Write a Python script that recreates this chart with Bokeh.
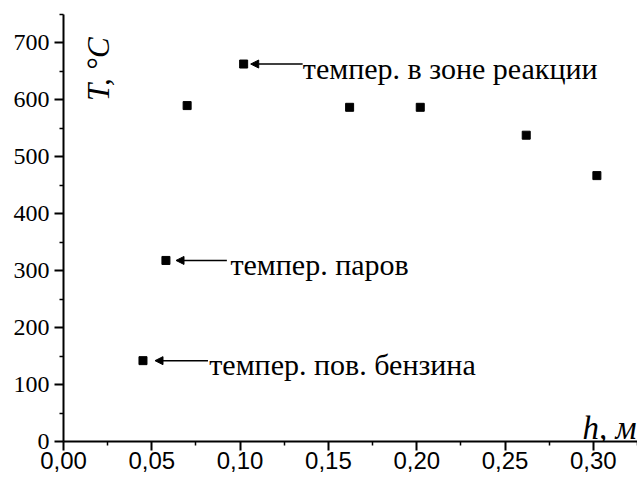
import math
from bokeh.plotting import figure
from bokeh.models import FixedTicker, Label, Arrow, NormalHead, Range1d
from bokeh.embed import file_html
from bokeh.resources import INLINE

# data
h_values = [0.045, 0.058, 0.070, 0.102, 0.162, 0.202, 0.262, 0.302]
T_values = [142, 318, 590, 663, 587, 587, 538, 467]

ann_texts = ["темпер. в зоне реакции", "темпер. паров", "темпер. пов. бензина"]
ann_points = [3, 1, 0]  # indices into the series

x_ticks = [0.0, 0.05, 0.10, 0.15, 0.20, 0.25, 0.30]
x_tick_labels = ["0,00", "0,05", "0,10", "0,15", "0,20", "0,25", "0,30"]
x_minor = [0.025, 0.075, 0.125, 0.175, 0.225, 0.275, 0.325]
y_ticks = [0, 100, 200, 300, 400, 500, 600, 700]
y_minor = [50, 150, 250, 350, 450, 550, 650, 750]

SERIF = "Liberation Serif"
SANS = "Liberation Sans"

p = figure(width=637, height=479, output_backend="svg", toolbar_location=None,
           x_range=Range1d(0, 0.325), y_range=Range1d(0, 750),
           min_border_left=63, min_border_bottom=38, min_border_top=14, min_border_right=0)
p.outline_line_color = None
p.grid.visible = False
p.background_fill_color = "white"
p.border_fill_color = "white"

p.xaxis.ticker = FixedTicker(ticks=x_ticks, minor_ticks=x_minor)
p.xaxis.major_label_overrides = {t: l for t, l in zip(x_ticks, x_tick_labels)}
p.yaxis.ticker = FixedTicker(ticks=y_ticks, minor_ticks=y_minor)

for ax in (p.xaxis[0], p.yaxis[0]):
    ax.axis_line_width = 2
    ax.axis_line_color = "black"
    ax.major_tick_line_width = 2
    ax.major_tick_line_color = "black"
    ax.minor_tick_line_width = 1.5
    ax.minor_tick_line_color = "black"
    ax.major_tick_in = 0
    ax.major_tick_out = 9
    ax.minor_tick_in = 0
    ax.minor_tick_out = 4
    ax.major_label_text_color = "black"

p.xaxis.major_label_text_font = SANS
p.xaxis.major_label_text_font_size = "24px"
p.xaxis.major_label_standoff = 1
p.yaxis.major_label_text_font = SERIF
p.yaxis.major_label_text_font_size = "24px"
p.yaxis.major_label_standoff = 5

p.scatter(h_values, T_values, marker="square", size=8, color="black")

head_off = [0.004, 0.0057, 0.0068]
tail_off = [0.0334, 0.0345, 0.0368]
text_off = [0.0335, 0.0365, 0.0375]
for i, (txt, idx) in enumerate(zip(ann_texts, ann_points)):
    px, py = h_values[idx], T_values[idx]
    p.add_layout(Arrow(end=NormalHead(size=8, fill_color="black", line_color="black"),
                       x_start=px + tail_off[i], y_start=py,
                       x_end=px + head_off[i], y_end=py,
                       line_width=1.5, line_color="black"))
    p.add_layout(Label(x=px + text_off[i], y=py, text=txt, text_font=SERIF,
                       text_font_size="30px", text_baseline="alphabetic",
                       y_offset=-4, text_color="black"))

p.add_layout(Label(x=0.0201, y=654, text="T, °C", angle=math.pi / 2,
                   text_font=SERIF, text_font_style="italic", text_font_size="31px",
                   text_align="center", text_baseline="middle", text_color="black"))
p.add_layout(Label(x=0.3245, y=23, text="h, м", text_font=SERIF,
                   text_font_style="italic", text_font_size="33px",
                   text_align="right", text_baseline="alphabetic", text_color="black"))

open("out.html", "w").write(file_html(p, INLINE))
